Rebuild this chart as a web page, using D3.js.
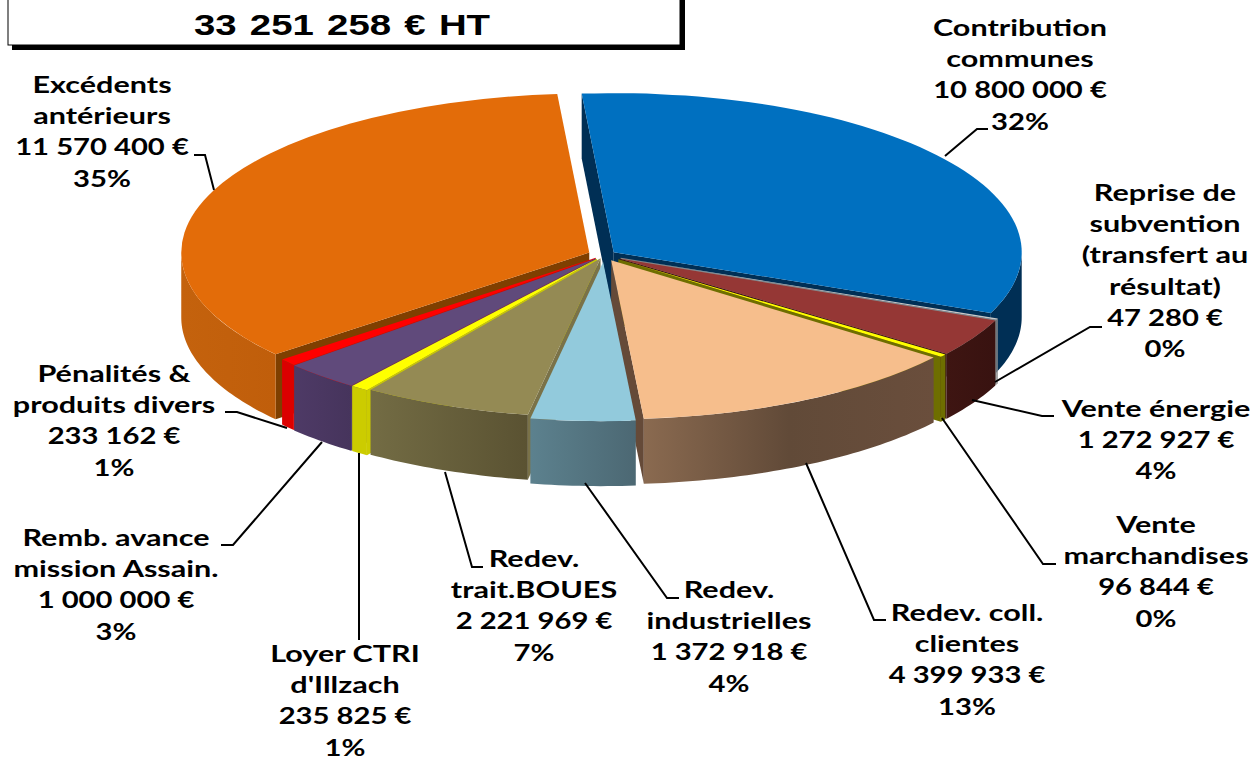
<!DOCTYPE html>
<html><head><meta charset="utf-8">
<style>html,body{margin:0;padding:0;background:#fff}svg{display:block}</style>
<script src="https://cdn.jsdelivr.net/npm/d3@7"></script></head>
<body><svg id="c" width="1255" height="760"></svg>
<script>
const totalTitle = "33 251 258 € HT";
const categories = ["Contribution communes","Reprise de subvention (transfert au résultat)","Vente énergie","Vente marchandises","Redev. coll. clientes","Redev. industrielles","Redev. trait.BOUES","Loyer CTRI d'Illzach","Remb. avance mission Assain.","Pénalités & produits divers","Excédents antérieurs"];
const values = [10800000,47280,1272927,96844,4399933,1372918,2221969,235825,1000000,233162,11570400];
const valueLabels = ["10 800 000 €","47 280 €","1 272 927 €","96 844 €","4 399 933 €","1 372 918 €","2 221 969 €","235 825 €","1 000 000 €","233 162 €","11 570 400 €"];
const percentLabels = ["32%","0%","4%","0%","13%","4%","7%","1%","3%","1%","35%"];
const nameLines = [["Contribution","communes"],["Reprise de","subvention","(transfert au","résultat)"],["Vente énergie"],["Vente","marchandises"],["Redev. coll.","clientes"],["Redev.","industrielles"],["Redev.","trait.BOUES"],["Loyer CTRI","d'Illzach"],["Remb. avance","mission Assain."],["Pénalités &","produits divers"],["Excédents","antérieurs"]];

// styling
const topColors  = ["#0070C0","#C8C8C8","#953735","#FFFF00","#F6BE8C","#92CADC","#948A54","#FFFF00","#604A7B","#FF0000","#E36C09"];
const wallStops  = [["#002F55","#002F55"],["#8A8A8A","#8A8A8A"],["#3E1512","#381210"],["#6E6E00","#6E6E00"],["#8A6A50","#614A38","#6A4E3C"],["#5C818E","#4C6873"],["#736C44","#5A5232"],["#CCCC00","#CCCC00"],["#4E3A66","#46345C"],["#DC0000","#DC0000"],["#C4620D","#C05E0B"]];
const cutColors  = ["#002F55","#8A8A8A","#3E1512","#6E6E00","#654A38","#5F8694","#7A7248","#CCCC00","#4E3A66","#DC0000","#7F3F00"];
const explode    = [12,18,18,18,15,18,9,12,12,11,16];
const drawOrder  = [10,0,1,2,3,9,8,7,6,4,5];
// label layout: centre x, first baseline y, leader polyline
const labelX     = [1020,1165,1156,1156,967,729,534,345,116,114,102];
const labelY     = [36,201,417,533,621,598,567,662,546,382,93];
const leaders    = [[[988,129],[977,129],[945,156]],[[1102,327],[1090,327],[995,382]],[[1054,416],[1042,416],[972,400]],[[1056,564],[1043,564],[942,418]],[[886,620],[874,620],[806,463]],[[679,598],[667,598],[585,483]],[[483,567],[472,567],[445,472]],[[359,640],[359,453]],[[221,545],[233,545],[322,442]],[[225,412],[237,412],[287,428]],[[194,155],[205,155],[214,190]]];

const cx=604, cy=255, R=408, K=0.39, DEPTH=65, LH=31.2, SX=1.33, SX_NUM=1.27;
const rad=d=>d*Math.PI/180;
const svg=d3.select("#c");
const defs=svg.append("defs");

// title box
svg.append("rect").attr("x",12).attr("y",-10).attr("width",673).attr("height",60).attr("fill","#000");
svg.append("rect").attr("x",8).attr("y",-12).attr("width",672).attr("height",57).attr("fill","#fff").attr("stroke","#000").attr("stroke-width",1);
svg.append("text").attr("transform","translate(342,35) scale(1.28,1)").attr("text-anchor","middle")
  .attr("font-family","'Liberation Sans',Arial,sans-serif").attr("font-weight","700").attr("font-size",30).attr("word-spacing",2).text(totalTitle);

const pie=d3.pie().sort(null).startAngle(rad(-4.5)).endAngle(rad(355.5));
const arcs=pie(values);
const arcGen=d3.arc().innerRadius(0).outerRadius(R);
const line=d3.line();

drawOrder.forEach(i=>{
  const a=arcs[i];
  const mid=(a.startAngle+a.endAngle)/2;
  const ox=cx+Math.sin(mid)*explode[i], oy=cy-Math.cos(mid)*explode[i]*K;
  const P=(t,d=0)=>[ox+R*Math.sin(t), oy-R*K*Math.cos(t)+d];
  const g=svg.append("g");
  // radial walls
  const s=a.startAngle, e=a.endAngle;
  if(Math.sin(s)<0) g.append("path").attr("d",line([[ox,oy],P(s),P(s,DEPTH),[ox,oy+DEPTH]])+"Z").attr("fill",cutColors[i]);
  if(Math.sin(e)>0) g.append("path").attr("d",line([[ox,oy],P(e),P(e,DEPTH),[ox,oy+DEPTH]])+"Z").attr("fill",cutColors[i]);
  // outer wall (front half only)
  const w0=Math.max(s,Math.PI/2), w1=Math.min(e,Math.PI*1.5);
  if(w1>w0){
    const n=Math.max(2,Math.ceil((w1-w0)/rad(1)));
    const ts=d3.range(n+1).map(k=>w0+(w1-w0)*k/n);
    const pts=ts.map(t=>P(t)).concat(ts.slice().reverse().map(t=>P(t,DEPTH)));
    const id="wall"+i;
    const gr=defs.append("linearGradient").attr("id",id).attr("gradientUnits","userSpaceOnUse")
      .attr("x1",P(w1)[0]).attr("x2",P(w0)[0]).attr("y1",0).attr("y2",0);
    wallStops[i].forEach((c,k,arr)=>gr.append("stop").attr("offset",k/(arr.length-1)).attr("stop-color",c));
    g.append("path").attr("d",line(pts)+"Z").attr("fill",`url(#${id})`);
  }
  // top face
  g.append("path").attr("transform",`translate(${ox},${oy}) scale(1,${K})`).attr("d",arcGen(a)).attr("fill",topColors[i]);
});

// leaders
svg.append("g").selectAll("path").data(leaders).join("path").attr("d",d=>line(d)).attr("fill","none").attr("stroke","#000").attr("stroke-width",2);

// labels
const lab=svg.append("g").attr("font-family","Lato,sans-serif").attr("font-weight","700").attr("font-size",23).attr("fill","#000");
categories.forEach((c,i)=>{
  const n=nameLines[i].length;
  nameLines[i].concat([valueLabels[i],percentLabels[i]]).forEach((t,j)=>{
    lab.append("text").attr("transform",`translate(${labelX[i]},${labelY[i]+j*LH}) scale(${j<n?SX:SX_NUM},1)`).attr("text-anchor","middle").text(t);
  });
});
</script></body></html>
